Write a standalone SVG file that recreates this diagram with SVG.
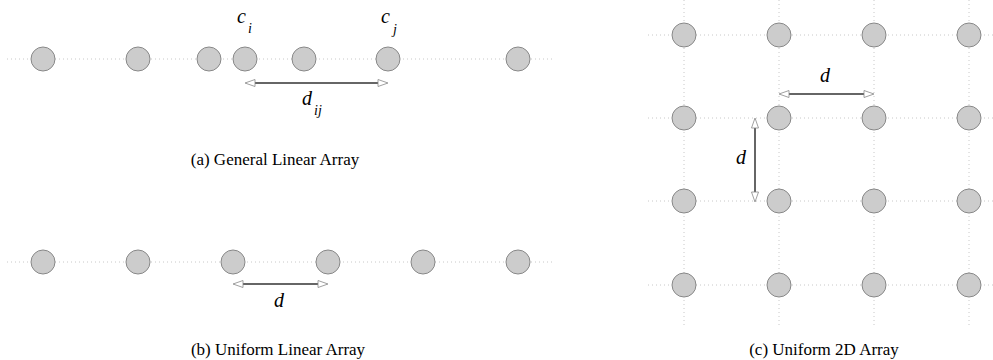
<svg xmlns="http://www.w3.org/2000/svg" width="993" height="360" viewBox="0 0 993 360">
<style>
.grid{stroke:#c8c8c8;stroke-width:1;stroke-dasharray:1 3;fill:none}
.node{fill:#cccccc;stroke:#888888;stroke-width:1}
.dim{stroke:#666666;stroke-width:2;fill:none}
text{font-family:'Liberation Serif','Times New Roman',Times,'DejaVu Serif',serif;fill:#000000}
</style>
<defs>
<marker id="oa" markerUnits="userSpaceOnUse" markerWidth="12" markerHeight="9" refX="0" refY="3.5" orient="auto-start-reverse" overflow="visible">
<path d="M0,0 L10,3.5 L0,7 Z" fill="#ffffff" stroke="#888888" stroke-width="0.8"/>
</marker>
</defs>
<rect width="993" height="360" fill="#ffffff"/>
<g id="grid">
<line class="grid" x1="7" y1="59" x2="552" y2="59"/>
<line class="grid" x1="7" y1="262" x2="552" y2="262"/>
<line class="grid" x1="648" y1="35" x2="993" y2="35"/>
<line class="grid" x1="648" y1="118" x2="993" y2="118"/>
<line class="grid" x1="648" y1="201" x2="993" y2="201"/>
<line class="grid" x1="648" y1="285" x2="993" y2="285"/>
<line class="grid" x1="684" y1="0" x2="684" y2="327"/>
<line class="grid" x1="779" y1="0" x2="779" y2="327"/>
<line class="grid" x1="874" y1="0" x2="874" y2="327"/>
<line class="grid" x1="969" y1="0" x2="969" y2="327"/>
</g>
<g id="panel-a">
<g id="a1"><circle class="node" cx="43" cy="59" r="12"/></g>
<g id="a2"><circle class="node" cx="138" cy="59" r="12"/></g>
<g id="a3"><circle class="node" cx="209" cy="59" r="12"/></g>
<g id="a4"><circle class="node" cx="245" cy="59" r="12"/></g>
<g id="a5"><circle class="node" cx="304" cy="59" r="12"/></g>
<g id="a6"><circle class="node" cx="388" cy="59" r="12"/></g>
<g id="a7"><circle class="node" cx="518" cy="59" r="12"/></g>
<g id="label-ci" font-style="italic"><text x="237" y="23" font-size="20">c</text><text x="248" y="33" font-size="14">i</text></g>
<g id="label-cj" font-style="italic"><text x="381" y="23" font-size="20">c</text><text x="393" y="34" font-size="14">j</text></g>
<g id="label-dij" font-style="italic"><text x="302" y="105" font-size="20">d</text><text x="314" y="115" font-size="14">ij</text></g>
<text id="cap-a" x="275" y="165" font-size="17" text-anchor="middle">(a) General Linear Array</text>
</g>
<g id="panel-b">
<g id="b1"><circle class="node" cx="43" cy="262" r="12"/></g>
<g id="b2"><circle class="node" cx="138" cy="262" r="12"/></g>
<g id="b3"><circle class="node" cx="233" cy="262" r="12"/></g>
<g id="b4"><circle class="node" cx="328" cy="262" r="12"/></g>
<g id="b5"><circle class="node" cx="423" cy="262" r="12"/></g>
<g id="b6"><circle class="node" cx="518" cy="262" r="12"/></g>
<text id="label-db" x="274" y="307" font-size="20" font-style="italic">d</text>
<text id="cap-b" x="278" y="355" font-size="17" text-anchor="middle">(b) Uniform Linear Array</text>
</g>
<g id="panel-c">
<g id="c11"><circle class="node" cx="684" cy="35" r="12"/></g>
<g id="c12"><circle class="node" cx="779" cy="35" r="12"/></g>
<g id="c13"><circle class="node" cx="874" cy="35" r="12"/></g>
<g id="c14"><circle class="node" cx="969" cy="35" r="12"/></g>
<g id="c21"><circle class="node" cx="684" cy="118" r="12"/></g>
<g id="c22"><circle class="node" cx="779" cy="118" r="12"/></g>
<g id="c23"><circle class="node" cx="874" cy="118" r="12"/></g>
<g id="c24"><circle class="node" cx="969" cy="118" r="12"/></g>
<g id="c31"><circle class="node" cx="684" cy="201" r="12"/></g>
<g id="c32"><circle class="node" cx="779" cy="201" r="12"/></g>
<g id="c33"><circle class="node" cx="874" cy="201" r="12"/></g>
<g id="c34"><circle class="node" cx="969" cy="201" r="12"/></g>
<g id="c41"><circle class="node" cx="684" cy="285" r="12"/></g>
<g id="c42"><circle class="node" cx="779" cy="285" r="12"/></g>
<g id="c43"><circle class="node" cx="874" cy="285" r="12"/></g>
<g id="c44"><circle class="node" cx="969" cy="285" r="12"/></g>
<text id="label-dh" x="820" y="82" font-size="20" font-style="italic">d</text>
<text id="label-dv" x="736" y="164" font-size="20" font-style="italic">d</text>
<text id="cap-c" x="824" y="355" font-size="17" text-anchor="middle">(c) Uniform 2D Array</text>
</g>
<g id="connectors">
<line class="dim" x1="255" y1="83" x2="378" y2="83" marker-start="url(#oa)" marker-end="url(#oa)"/>
<line class="dim" x1="243" y1="284" x2="318" y2="284" marker-start="url(#oa)" marker-end="url(#oa)"/>
<line class="dim" x1="789" y1="94" x2="864" y2="94" marker-start="url(#oa)" marker-end="url(#oa)"/>
<line class="dim" x1="755" y1="128" x2="755" y2="192" marker-start="url(#oa)" marker-end="url(#oa)"/>
</g>
</svg>
